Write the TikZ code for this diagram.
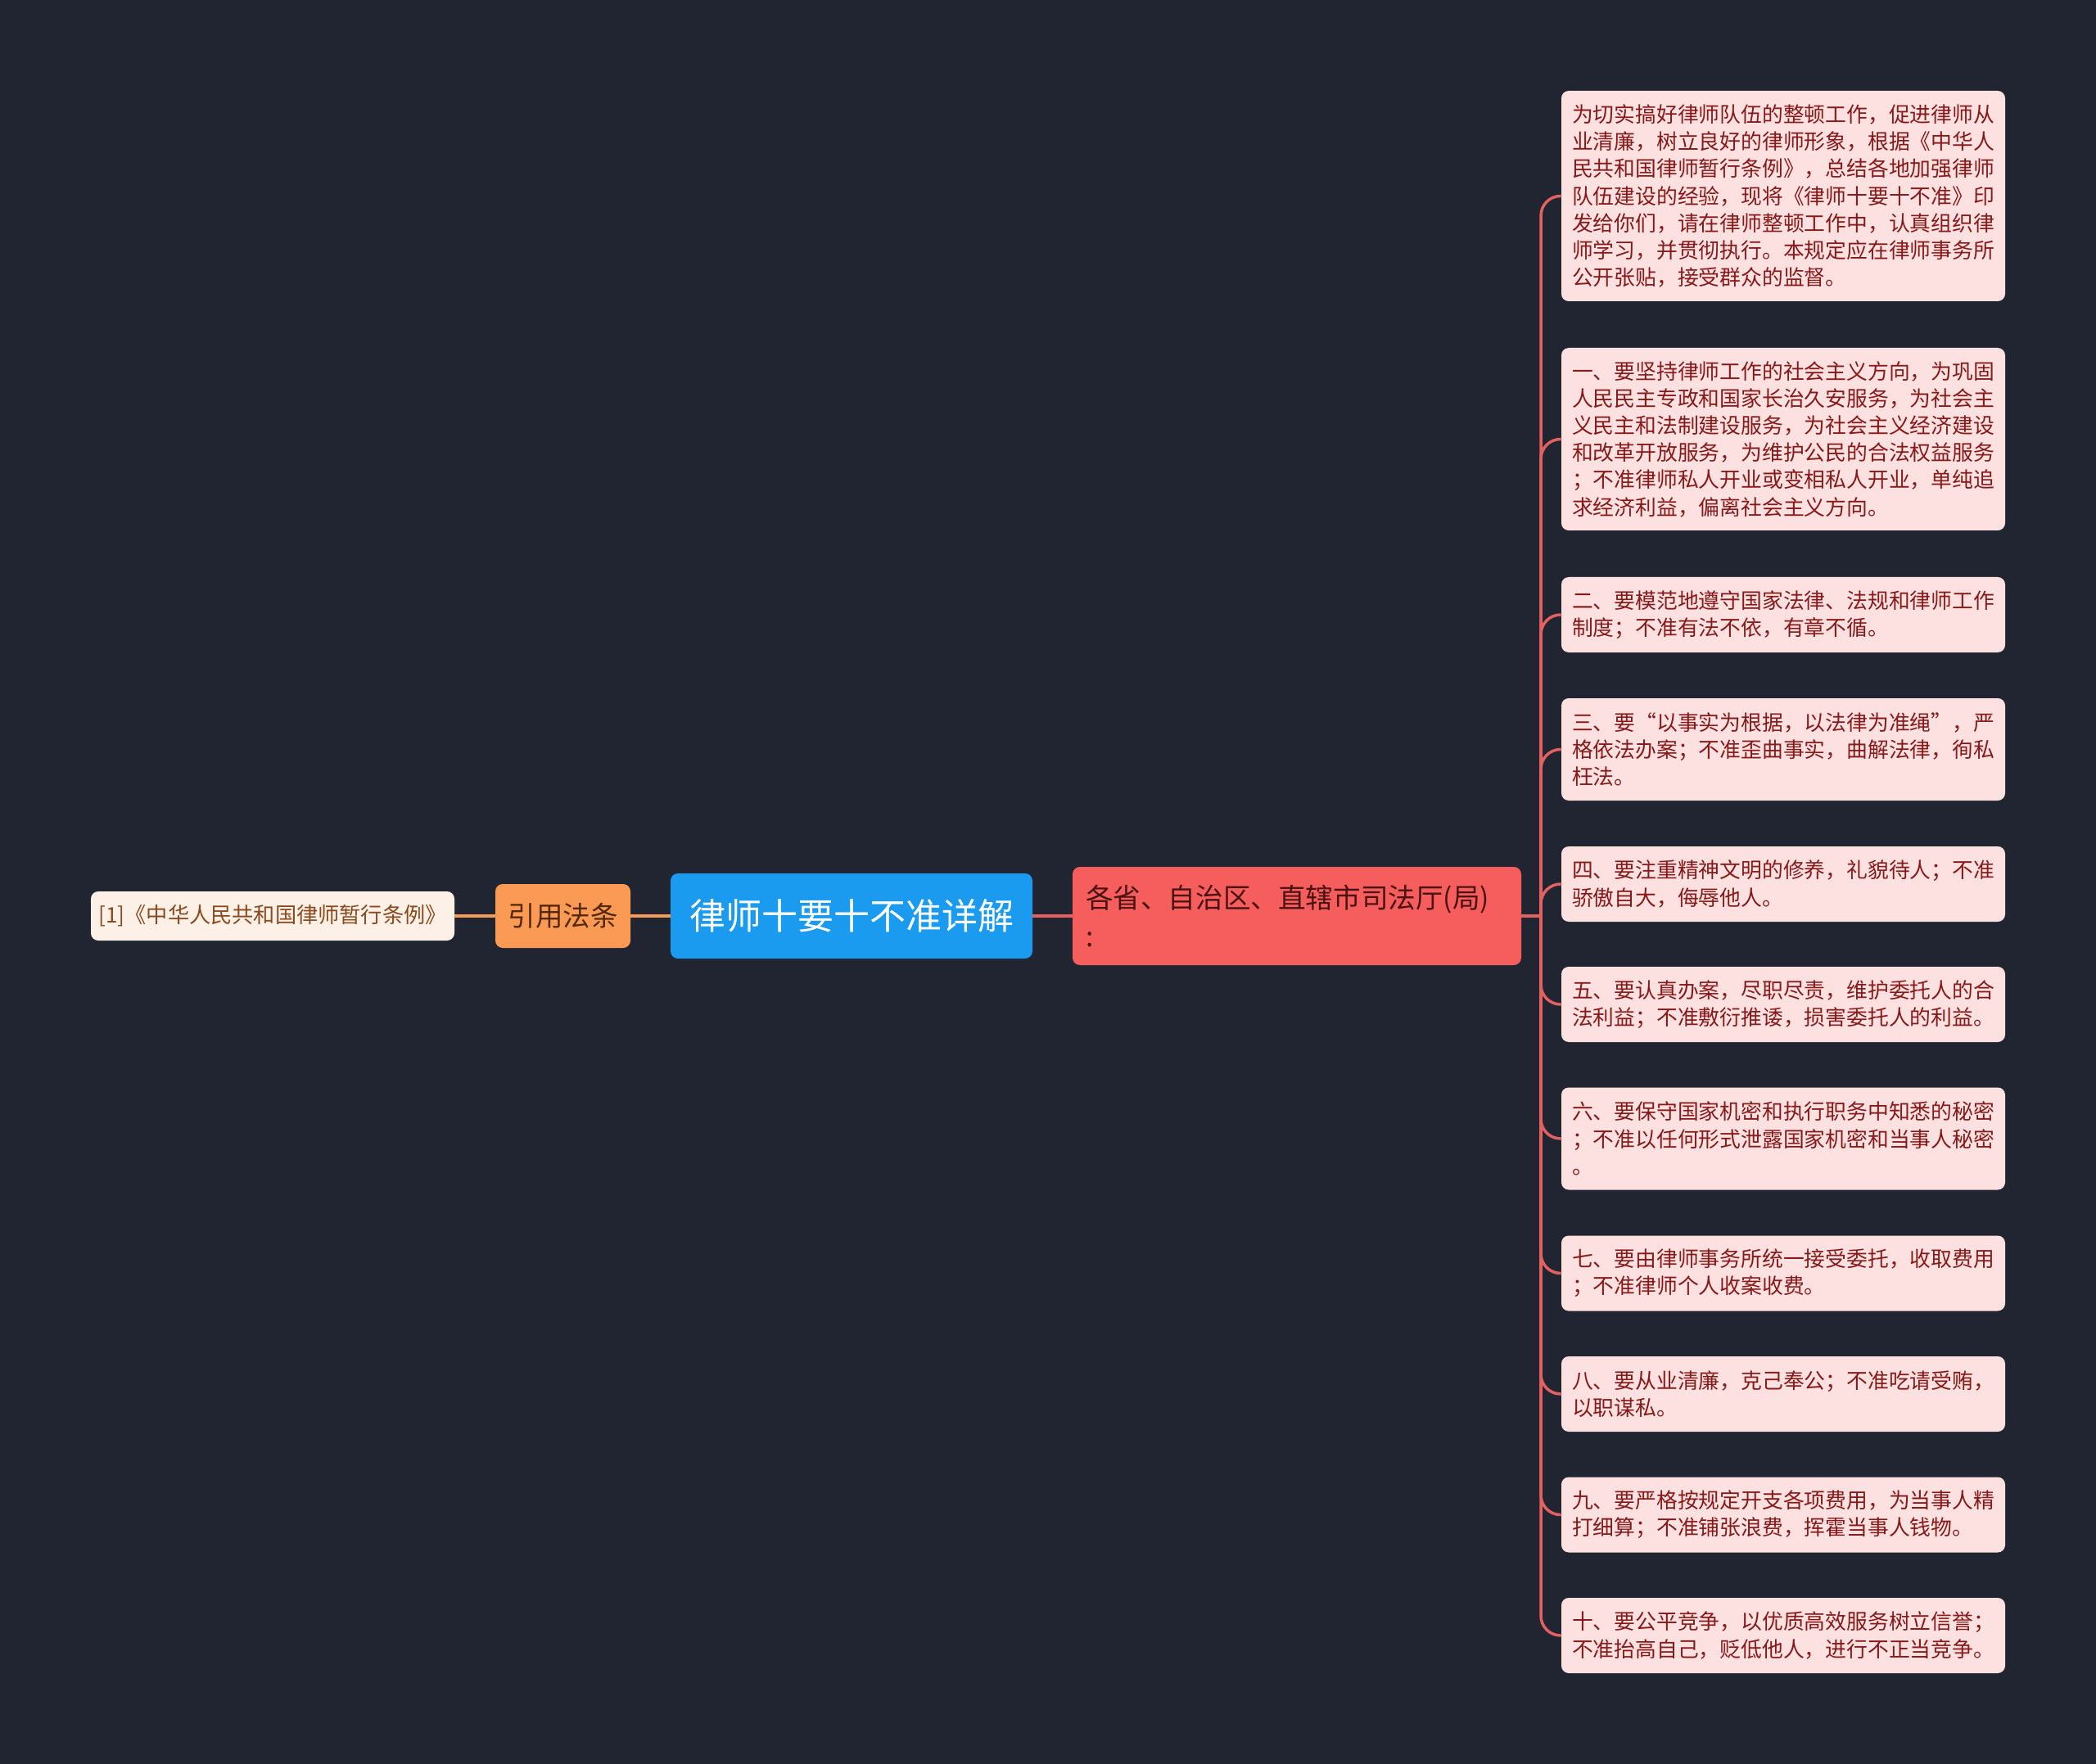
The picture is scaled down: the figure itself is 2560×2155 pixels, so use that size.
\documentclass[tikz,border=0pt]{standalone}
\usepackage{fontspec}
\setmainfont{Noto Sans CJK SC}
\setlength{\parindent}{0pt}
\definecolor{bg}{HTML}{212531}
\definecolor{itemfill}{HTML}{FDE0E0}
\definecolor{itemtext}{HTML}{861A1A}
\definecolor{redfill}{HTML}{F65D5D}
\definecolor{redtext}{HTML}{4B1212}
\definecolor{redline}{HTML}{E36161}
\definecolor{bluefill}{HTML}{1B9BF0}
\definecolor{orangefill}{HTML}{FA9A55}
\definecolor{orangetext}{HTML}{542808}
\definecolor{orangeline}{HTML}{F39C5A}
\definecolor{reffill}{HTML}{FDF0E6}
\definecolor{reftext}{HTML}{8A4A20}
\begin{document}
\begin{tikzpicture}[x=0.5pt,y=-0.5pt,
  item/.style={rectangle, rounded corners=4.5pt, fill=itemfill, text=itemtext,
    font=\fontsize{12.9pt}{16.6pt}\selectfont, text width=258pt, align=left,
    inner xsep=6.5pt, inner ysep=0pt},
  twoline/.style={item, minimum height=46pt},
  threeline/.style={item, minimum height=62.5pt},
  redbox/.style={rectangle, rounded corners=4.5pt, fill=redfill, text=redtext,
    font=\fontsize{16.8pt}{23.5pt}\selectfont, text width=258pt, align=left,
    inner xsep=8pt, inner ysep=0pt, minimum height=60pt},
  bluebox/.style={rectangle, rounded corners=4.5pt, fill=bluefill, text=white,
    font=\fontsize{22pt}{26pt}\selectfont, minimum width=221pt, minimum height=52pt},
  orangebox/.style={rectangle, rounded corners=4.5pt, fill=orangefill, text=orangetext,
    font=\fontsize{16.75pt}{20pt}\selectfont, minimum width=82.5pt, minimum height=39pt},
  refbox/.style={rectangle, rounded corners=4.5pt, fill=reffill, text=reftext,
    font=\fontsize{13.1pt}{16pt}\selectfont, minimum width=222pt, minimum height=30pt},
  redlink/.style={draw=redline, line width=1.75pt},
  branch/.style={draw=redline, line width=1.75pt, rounded corners=12pt},
  orangelink/.style={draw=orangeline, line width=2pt}
]
\fill[bg] (0,0) rectangle (2560,2155);

\node[refbox] (ref) at (333,1119) {[1]《中华人民共和国律师暂行条例》};
\node[orangebox] (cite) at (687.5,1119) {引用法条};
\node[bluebox] (root) at (1040,1119) {律师十要十不准详解};
\node[redbox] (dept) at (1584,1119) {各省、自治区、直辖市司法厅(局)\\:};

\node[item, minimum height=128.5pt] (b0) at (2178,239.5) {为切实搞好律师队伍的整顿工作，促进律师从\\业清廉，树立良好的律师形象，根据《中华人\\民共和国律师暂行条例》，总结各地加强律师\\队伍建设的经验，现将《律师十要十不准》印\\发给你们，请在律师整顿工作中，认真组织律\\师学习，并贯彻执行。本规定应在律师事务所\\公开张贴，接受群众的监督。};
\node[item, minimum height=111.5pt] (b1) at (2178,536.5) {一、要坚持律师工作的社会主义方向，为巩固\\人民民主专政和国家长治久安服务，为社会主\\义民主和法制建设服务，为社会主义经济建设\\和改革开放服务，为维护公民的合法权益服务\\；不准律师私人开业或变相私人开业，单纯追\\求经济利益，偏离社会主义方向。};
\node[twoline] (b2) at (2178,751) {二、要模范地遵守国家法律、法规和律师工作\\制度；不准有法不依，有章不循。};
\node[threeline] (b3) at (2178,915.5) {三、要“以事实为根据，以法律为准绳”，严\\格依法办案；不准歪曲事实，曲解法律，徇私\\枉法。};
\node[twoline] (b4) at (2178,1080) {四、要注重精神文明的修养，礼貌待人；不准\\骄傲自大，侮辱他人。};
\node[twoline] (b5) at (2178,1227) {五、要认真办案，尽职尽责，维护委托人的合\\法利益；不准敷衍推诿，损害委托人的利益。};
\node[threeline] (b6) at (2178,1391) {六、要保守国家机密和执行职务中知悉的秘密\\；不准以任何形式泄露国家机密和当事人秘密\\。};
\node[twoline] (b7) at (2178,1555.5) {七、要由律师事务所统一接受委托，收取费用\\；不准律师个人收案收费。};
\node[twoline] (b8) at (2178,1703) {八、要从业清廉，克己奉公；不准吃请受贿，\\以职谋私。};
\node[twoline] (b9) at (2178,1850.5) {九、要严格按规定开支各项费用，为当事人精\\打细算；不准铺张浪费，挥霍当事人钱物。};
\node[twoline] (b10) at (2178,1998) {十、要公平竞争，以优质高效服务树立信誉；\\不准抬高自己，贬低他人，进行不正当竞争。};

\coordinate (J) at (1882,1119);

\draw[orangelink] (ref.east) -- (cite.west);
\draw[orangelink] (cite.east) -- (root.west);
\draw[redlink] (root.east) -- (dept.west);
\draw[redlink] (dept.east) -- (J);
\foreach \b in {b0,b1,b2,b3,b4,b5,b6,b7,b8,b9,b10}{
  \draw[branch] (J) |- (\b.west);
}
\end{tikzpicture}
\end{document}
